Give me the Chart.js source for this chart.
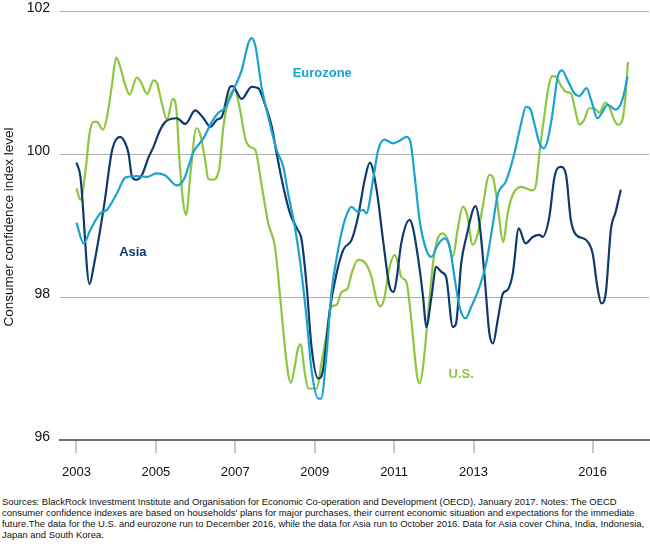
<!DOCTYPE html>
<html>
<head>
<meta charset="utf-8">
<script src="https://cdn.jsdelivr.net/npm/chart.js@4.4.1/dist/chart.umd.min.js"></script>
<style>
  body { margin: 0; background: #fff; }
  #wrap { position: relative; width: 650px; height: 490px; }
  #note {
    position: absolute; left: 2px; top: 497px;
    font-family: "Liberation Sans", Arial, sans-serif;
    font-size: 9.45px; line-height: 10.9px; color: #111; white-space: nowrap;
  }
</style>
</head>
<body>
<div id="wrap"><canvas id="myChart"></canvas></div>
<div id="note">
Sources: BlackRock Investment Institute and Organisation for Economic Co-operation and Development (OECD), January 2017. Notes: The OECD<br>
consumer confidence indexes are based on households' plans for major purchases, their current economic situation and expectations for the immediate<br>
future.The data for the U.S. and eurozone run to December 2016, while the data for Asia run to October 2016. Data for Asia cover China, India, Indonesia,<br>
Japan and South Korea.
</div>
<script>
// x = decimal year (Jan 2003 = 2003.0), y = index level
const asiaYears = [2003.00, 2003.10, 2003.33, 2003.43, 2003.69, 2003.90, 2004.10, 2004.23, 2004.31, 2004.40, 2004.51, 2004.65, 2004.82, 2004.94,
  2005.11, 2005.24, 2005.53, 2005.74, 2005.99, 2006.20, 2006.37, 2006.54, 2006.66, 2006.87, 2006.93, 2007.16, 2007.41, 2007.58, 2007.75, 2007.92,
  2008.04, 2008.21, 2008.38, 2008.55, 2008.67, 2008.80, 2008.92, 2009.09, 2009.21, 2009.38, 2009.55, 2009.72, 2009.93, 2010.09, 2010.26, 2010.39,
  2010.56, 2010.72, 2010.89, 2010.99, 2011.06, 2011.18, 2011.39, 2011.47, 2011.60, 2011.73, 2011.81, 2011.94, 2012.06, 2012.19, 2012.31, 2012.48,
  2012.56, 2012.69, 2012.82, 2013.05, 2013.15, 2013.28, 2013.40, 2013.49, 2013.61, 2013.74, 2013.86, 2013.99, 2014.14, 2014.31, 2014.49, 2014.66,
  2014.74, 2014.91, 2015.04, 2015.20, 2015.33, 2015.45, 2015.58, 2015.83, 2016.00, 2016.12, 2016.22, 2016.33, 2016.46, 2016.58, 2016.71];
const asiaValues = [99.88, 99.68, 98.18, 98.42, 99.26, 100.06, 100.24, 100.15, 100.01, 99.68, 99.64, 99.71, 99.96, 100.10,
  100.34, 100.45, 100.50, 100.42, 100.61, 100.50, 100.38, 100.48, 100.52, 100.94, 100.95, 100.77, 100.94, 100.92, 100.69, 100.38,
  100.01, 99.54, 99.17, 98.96, 98.80, 98.14, 97.30, 96.86, 96.98, 97.82, 98.33, 98.66, 98.80, 99.12, 99.64, 99.88,
  99.50, 98.80, 98.14, 98.07, 98.24, 98.75, 99.08, 98.98, 98.56, 98.00, 97.58, 98.00, 98.42, 98.35, 98.28, 97.58,
  97.63, 98.47, 98.84, 99.27, 99.03, 98.28, 97.49, 97.35, 97.68, 98.05, 98.10, 98.33, 98.96, 98.75, 98.84, 98.87,
  98.84, 99.12, 99.68, 99.82, 99.71, 99.08, 98.87, 98.80, 98.61, 98.14, 97.91, 98.05, 98.94, 99.19, 99.50];

const euroYears = [2003.00, 2003.18, 2003.35, 2003.60, 2003.77, 2004.02, 2004.23, 2004.52, 2004.78, 2005.01, 2005.24, 2005.53, 2005.70, 2005.95,
  2006.20, 2006.41, 2006.58, 2006.74, 2006.99, 2007.16, 2007.33, 2007.41, 2007.51, 2007.66, 2007.83, 2008.04, 2008.21, 2008.33, 2008.50, 2008.67,
  2008.80, 2008.92, 2009.09, 2009.16, 2009.30, 2009.42, 2009.59, 2009.76, 2009.93, 2010.09, 2010.22, 2010.30, 2010.47, 2010.60, 2010.76, 2010.97,
  2011.18, 2011.31, 2011.41, 2011.52, 2011.64, 2011.81, 2011.94, 2012.10, 2012.27, 2012.40, 2012.52, 2012.65, 2012.80, 2012.94, 2013.15, 2013.32,
  2013.49, 2013.61, 2013.82, 2014.03, 2014.20, 2014.32, 2014.42, 2014.53, 2014.66, 2014.77, 2014.87, 2014.99, 2015.12, 2015.23, 2015.37, 2015.54,
  2015.66, 2015.85, 2015.96, 2016.12, 2016.25, 2016.37, 2016.58, 2016.75, 2016.88];
const euroValues = [99.04, 98.75, 98.94, 99.17, 99.22, 99.45, 99.67, 99.69, 99.68, 99.73, 99.70, 99.56, 99.64, 100.03,
  100.22, 100.45, 100.58, 100.64, 100.94, 101.17, 101.55, 101.62, 101.50, 100.94, 100.52, 100.06, 99.82, 99.45, 98.98, 98.33,
  97.68, 96.98, 96.58, 96.58, 97.21, 98.05, 98.66, 99.08, 99.26, 99.19, 99.22, 99.17, 99.64, 100.06, 100.20, 100.15,
  100.20, 100.24, 100.17, 99.68, 99.08, 98.66, 98.56, 98.73, 98.82, 98.70, 98.28, 97.86, 97.70, 97.86, 98.14, 98.47,
  99.03, 99.43, 99.62, 100.01, 100.43, 100.66, 100.64, 100.43, 100.15, 100.08, 100.20, 100.57, 101.08, 101.17, 101.03, 100.85,
  100.81, 100.92, 100.76, 100.50, 100.59, 100.69, 100.62, 100.76, 101.08];

const usYears = [2003.00, 2003.10, 2003.23, 2003.33, 2003.43, 2003.51, 2003.67, 2003.77, 2003.90, 2004.00, 2004.10, 2004.23, 2004.34, 2004.52,
  2004.62, 2004.78, 2004.94, 2005.03, 2005.13, 2005.28, 2005.43, 2005.51, 2005.60, 2005.68, 2005.76, 2005.88, 2006.02, 2006.12, 2006.24, 2006.32,
  2006.43, 2006.59, 2006.70, 2006.83, 2006.98, 2007.12, 2007.25, 2007.37, 2007.50, 2007.67, 2007.83, 2008.00, 2008.13, 2008.25, 2008.33, 2008.40,
  2008.50, 2008.57, 2008.65, 2008.74, 2008.84, 2009.05, 2009.17, 2009.30, 2009.42, 2009.55, 2009.68, 2009.83, 2009.93, 2010.09, 2010.27, 2010.43,
  2010.56, 2010.66, 2010.76, 2010.87, 2011.02, 2011.10, 2011.18, 2011.31, 2011.39, 2011.49, 2011.58, 2011.64, 2011.73, 2011.85, 2011.98, 2012.10,
  2012.23, 2012.35, 2012.48, 2012.60, 2012.73, 2012.83, 2012.98, 2013.11, 2013.23, 2013.40, 2013.49, 2013.59, 2013.75, 2013.86, 2013.99, 2014.20,
  2014.37, 2014.49, 2014.58, 2014.66, 2014.78, 2014.89, 2014.98, 2015.08, 2015.20, 2015.33, 2015.45, 2015.56, 2015.66, 2015.79, 2015.91, 2016.04,
  2016.17, 2016.32, 2016.42, 2016.54, 2016.65, 2016.75, 2016.82, 2016.89];
const usValues = [99.52, 99.36, 99.78, 100.29, 100.45, 100.45, 100.34, 100.52, 100.99, 101.35, 101.22, 100.96, 100.83, 101.07,
  101.01, 100.84, 101.03, 100.99, 100.76, 100.48, 100.77, 100.66, 99.87, 99.36, 99.15, 99.78, 100.36, 100.27, 99.92, 99.65,
  99.64, 99.78, 100.38, 100.76, 100.90, 100.62, 100.22, 100.10, 100.06, 99.54, 99.03, 98.70, 98.00, 97.30, 96.93, 96.80,
  97.03, 97.26, 97.34, 96.98, 96.72, 96.72, 97.07, 97.49, 97.86, 97.89, 98.07, 98.12, 98.33, 98.52, 98.48, 98.28,
  97.96, 97.87, 98.00, 98.38, 98.59, 98.47, 98.28, 98.21, 97.91, 97.35, 96.89, 96.79, 97.03, 97.72, 98.47, 98.82,
  98.89, 98.80, 98.56, 98.94, 99.26, 99.17, 98.73, 98.89, 99.26, 99.71, 99.67, 99.36, 98.77, 99.17, 99.43, 99.54,
  99.51, 99.49, 99.59, 100.01, 100.52, 100.94, 101.09, 101.08, 100.96, 100.87, 100.85, 100.62, 100.41, 100.48, 100.64, 100.64,
  100.58, 100.72, 100.66, 100.48, 100.41, 100.48, 100.76, 101.29];

const xTickYears = [2003, 2005, 2007, 2009, 2011, 2013, 2016];
const yTicks = [96, 98, 100, 102];

// series name labels placed at data coordinates
const seriesLabels = [
  { text: 'Eurozone', x: 2009.19, y: 101.13, color: '#1ba3cf' },
  { text: 'Asia', x: 2004.42, y: 98.63, color: '#0f3a6c' },
  { text: 'U.S.', x: 2012.69, y: 96.92, color: '#8dc63f' }
];

const FONT = '"Liberation Sans", Arial, sans-serif';

const pairs = (xs, ys) => xs.map((x, i) => ({ x: x, y: ys[i] }));

const textPlugin = {
  id: 'textPlugin',
  afterDraw(chart) {
    const ctx = chart.ctx;
    const xs = chart.scales.x, ys = chart.scales.y;
    ctx.save();
    ctx.textAlign = 'center';
    ctx.textBaseline = 'middle';
    ctx.font = 'bold 13px ' + FONT;
    seriesLabels.forEach(l => {
      ctx.fillStyle = l.color;
      ctx.fillText(l.text, xs.getPixelForValue(l.x), ys.getPixelForValue(l.y));
    });
    // y axis title
    ctx.translate(9, 227);
    ctx.rotate(-Math.PI / 2);
    ctx.font = '13.5px ' + FONT;
    ctx.fillStyle = '#111';
    ctx.fillText('Consumer confidence index level', 0, 0);
    ctx.restore();
  }
};

const ctx = document.getElementById('myChart').getContext('2d');
const myChart = new Chart(ctx, {
  type: 'line',
  data: {
    datasets: [
      { label: 'Eurozone', data: pairs(euroYears, euroValues), borderColor: '#1ba3cf' },
      { label: 'Asia', data: pairs(asiaYears, asiaValues), borderColor: '#0f3a6c' },
      { label: 'U.S.', data: pairs(usYears, usValues), borderColor: '#8dc63f' }
    ]
  },
  options: {
    responsive: true,
    maintainAspectRatio: false,
    animation: false,
    layout: { padding: { left: 0, right: 1, top: 11, bottom: 0 } },
    elements: {
      line: { borderWidth: 2.2, cubicInterpolationMode: 'monotone', fill: false },
      point: { radius: 0, hoverRadius: 0 }
    },
    plugins: { legend: { display: false }, tooltip: { enabled: false } },
    scales: {
      x: {
        type: 'linear',
        min: 2002.585,
        max: 2017.42,
        afterBuildTicks: scale => { scale.ticks = xTickYears.map(v => ({ value: v })); },
        afterFit: scale => { scale.height = 50; scale.paddingLeft = 0; scale.paddingRight = 0; },
        grid: { drawOnChartArea: false, drawTicks: true, tickLength: 13, color: '#c8c8c8', lineWidth: 2 },
        border: { display: true, color: '#6e6e6e', width: 2 },
        ticks: {
          autoSkip: false, maxRotation: 0, padding: 12, color: '#111',
          font: { family: FONT, size: 13 },
          callback: v => String(v)
        }
      },
      y: {
        min: 96,
        max: 102,
        afterBuildTicks: scale => { scale.ticks = yTicks.map(v => ({ value: v })); },
        afterFit: scale => { scale.width = 60; scale.paddingTop = 0; scale.paddingBottom = 0; },
        grid: { color: '#b0b0b0', lineWidth: 1, drawTicks: false, tickLength: 0 },
        border: { display: false },
        ticks: {
          padding: 10, labelOffset: -3, color: '#111',
          font: { family: FONT, size: 14 }
        }
      }
    }
  },
  plugins: [textPlugin]
});
</script>
</body>
</html>
